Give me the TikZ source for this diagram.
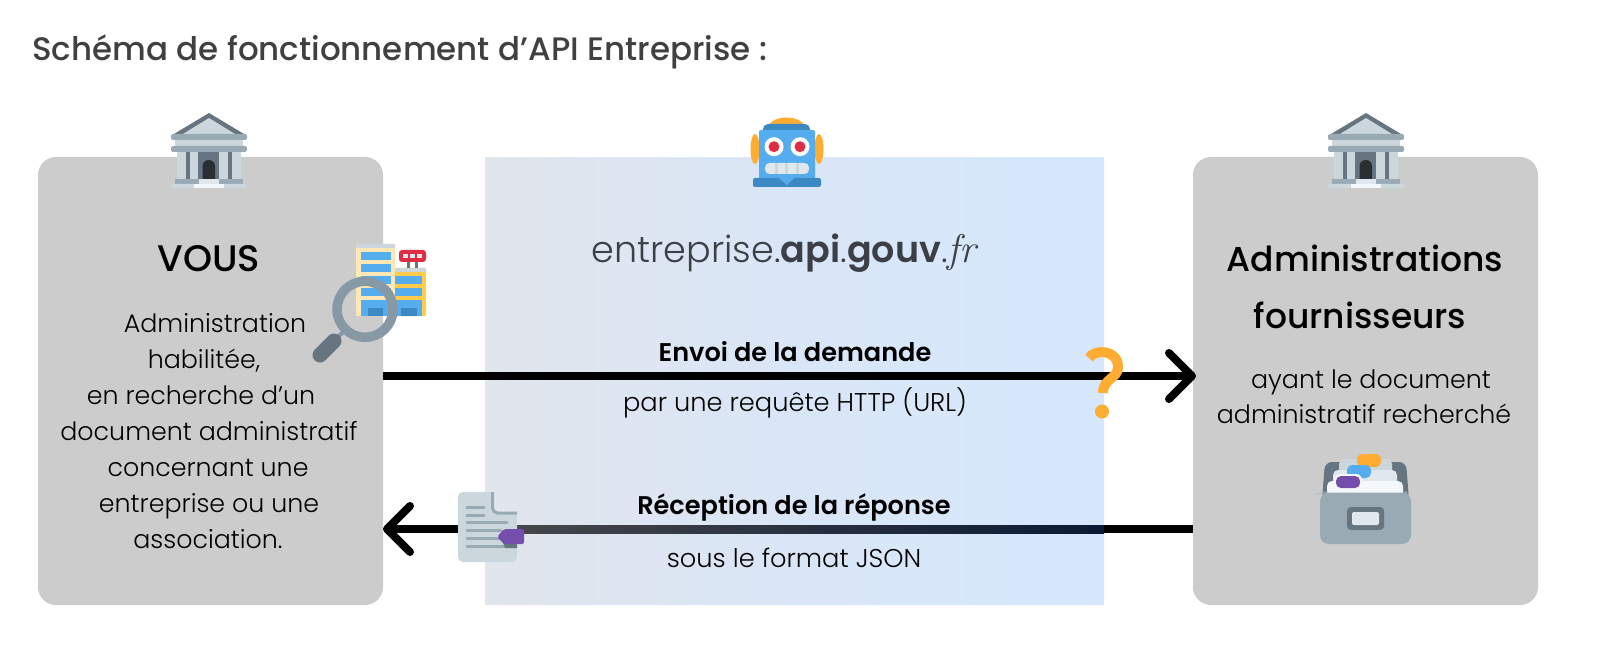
\documentclass[tikz,border=0pt]{standalone}
\usepackage{fontspec}
\usetikzlibrary{arrows.meta}
\newfontfamily\bodyfont{Poppins Light}
\newfontfamily\boldfont{Poppins Medium}
\newfontfamily\semifont{Poppins SemiBold}
\definecolor{boxgrey}{HTML}{CCCCCC}
\definecolor{panelL}{HTML}{E1E5EC}
\definecolor{panelR}{HTML}{D6E7FC}
\definecolor{ink}{HTML}{3C3F46}
\definecolor{titleink}{HTML}{404040}
\definecolor{fadeL}{HTML}{45474C}
\definecolor{fadeR}{HTML}{0B1A33}
\definecolor{tw1}{HTML}{66757F}
\definecolor{tw2}{HTML}{99AAB5}
\definecolor{tw3}{HTML}{CCD6DD}
\definecolor{tw4}{HTML}{E1E8ED}
\definecolor{tw5}{HTML}{F5F8FA}
\definecolor{tw6}{HTML}{292F33}
\definecolor{tw7}{HTML}{8899A6}
\definecolor{twblue}{HTML}{55ACEE}
\definecolor{twdblue}{HTML}{3B88C3}
\definecolor{twred}{HTML}{DD2E44}
\definecolor{twor}{HTML}{FFAC33}
\definecolor{twyel}{HTML}{FFCC4D}
\definecolor{twcream}{HTML}{FFE8B6}
\definecolor{twpur}{HTML}{744EAA}
\tikzset{
  x=1pt,y=-1pt,
  sidebox/.style={fill=boxgrey,draw=none,rounded corners=18pt,minimum width=345pt,minimum height=448pt,inner sep=0pt,outer sep=0pt},
  bodytext/.style={anchor=base,inner sep=0pt,font=\bodyfont\fontsize{25.3}{26}\selectfont,text=black},
  midtext/.style={anchor=base,inner sep=0pt,font=\bodyfont\fontsize{25.7}{26}\selectfont,text=black},
  midbold/.style={anchor=base,inner sep=0pt,font=\semifont\fontsize{25.6}{26}\selectfont,text=black},
  headtext/.style={anchor=base,inner sep=0pt,font=\boldfont\fontsize{34.5}{36}\selectfont,text=black},
  flow/.style={draw=black,line width=8pt,-{Straight Barb[length=23pt,width=46pt,round]}},
  bankicon/.pic={
    \fill[tw1] (0,0) -- (-35,21) -- (35,21) -- cycle;
    \fill[tw3] (0,5) -- (-26,21) -- (26,21) -- cycle;
    \fill[tw3] (-32,39) rectangle (32,67);
    \fill[tw1] (-23,39) rectangle (-19,67);
    \fill[tw1] (19,39) rectangle (23,67);
    \fill[tw1] (-11,39) rectangle (10,67);
    \fill[tw6,rounded corners=6pt] (-6.5,67) -- (-6.5,47) -- (6,47) [sharp corners] -- (6,67) -- cycle;
    \fill[tw3] (-34,27) rectangle (34,34);
    \fill[tw2,rounded corners=2pt] (-38,21) rectangle (38,27);
    \fill[tw2,rounded corners=2pt] (-38,33) rectangle (38,39);
    \fill[tw2] (-34,66) rectangle (34,71);
    \fill[tw3] (-37,71) -- (37,71) -- (38,75) -- (-38,75) -- cycle;
    \fill[tw4] (-10,66) rectangle (10,71);
    \fill[tw5] (-15,71) rectangle (15,75);
  }
}
\begin{document}
\begin{tikzpicture}
\useasboundingbox (0,0) rectangle (1600,660);
% panels
\node[sidebox] (leftbox) at (210.5,381) {};
\node[sidebox] (rightbox) at (1365.5,381) {};
\node[inner sep=0pt,outer sep=0pt,minimum width=619pt,minimum height=447pt,left color=panelL,right color=panelR,middle color=panelL!30!panelR] (panel) at (794.5,381) {};
% title
\node[anchor=base west,inner sep=0pt,text=titleink,font=\boldfont\fontsize{32.5}{34}\selectfont] (title) at (32,61) {Schéma de fonctionnement d’API Entreprise :};
% connectors
\coordinate (reqy) at (0,376);
\coordinate (repy) at (0,529);
\draw[flow,shorten >=-3pt] (leftbox.east |- reqy) -- (rightbox.west |- reqy);
\draw[flow] (rightbox.west |- repy) -- (leftbox.east |- repy);
\node[inner sep=0pt,outer sep=0pt,minimum width=587pt,minimum height=8pt,left color=fadeL,right color=fadeR] (fade) at (810.5,529) {};
% left text
\node[headtext,font=\boldfont\fontsize{37}{38}\selectfont] (vous) at (209,272) {VOUS};
\node[bodytext] (l1) at (215,332) {Administration};
\node[bodytext] (l2) at (204,368) {habilitée,};
\node[bodytext] (l3) at (201,404) {en recherche d’un};
\node[bodytext] (l4) at (209,440) {document administratif};
\node[bodytext] (l5) at (208,476) {concernant une};
\node[bodytext] (l6) at (209,512) {entreprise ou une};
\node[bodytext] (l7) at (208,548) {association.};
% right text
\node[headtext] (r1) at (1365,272) {Administrations};
\node[headtext] (r2) at (1360,328) {fournisseurs};
\node[bodytext] (r3) at (1371,388) {ayant le document};
\node[bodytext] (r4) at (1364,423) {administratif recherché};
% middle
\node[anchor=base,inner sep=0pt,text=ink,font=\fontsize{36.5}{37}\selectfont] (brand) at (784,262) {{\bodyfont entreprise.}{\semifont api}{\bodyfont .}{\semifont gouv}{\bodyfont .}{\rmfamily\itshape\fontsize{40}{40}\selectfont fr}};
\node[midbold] (m1) at (795,361) {Envoi de la demande};
\node[midtext] (m2) at (795,411) {par une requête HTTP (URL)};
\node[midbold] (m3) at (794,514) {Réception de la réponse};
\node[midtext] (m4) at (794,567) {sous le format JSON};
% banks
\pic (bankL) at (209,113) {bankicon};
\pic (bankR) at (1366,113) {bankicon};
% robot
\fill[twor] (768,128) .. controls (770,114) and (803,114) .. (805,128) -- cycle;
\fill[twor] (755,149) ellipse (4.5 and 15);
\fill[twor] (819,149) ellipse (4.5 and 15);
\fill[twdblue,rounded corners=5pt] (763,124) rectangle (810,140);
\fill[twblue,rounded corners=2pt] (759,130) rectangle (815,180);
\fill[white] (774,146.7) circle (9.5);
\fill[white] (800,146.7) circle (9.5);
\fill[twred] (774,146.7) circle (5.5);
\fill[twred] (800,146.7) circle (5.5);
\fill[tw4,rounded corners=4.5pt] (765,163) rectangle (809,174);
\fill[tw3] (775,163) rectangle (778,174);
\fill[tw3] (785,163) rectangle (788,174);
\fill[tw3] (796,163) rectangle (799,174);
\fill[twdblue,rounded corners=2pt] (753,178) rectangle (821,187);
\fill[twblue] (778,177.5) -- (795,177.5) -- (787,185) -- cycle;
% buildings
\fill[twcream,rounded corners=1pt] (356,244) rectangle (395,316);
\fill[tw3,rounded corners=1pt] (356,244) rectangle (395,248);
\fill[twblue] (361,252) rectangle (391,260);
\fill[twblue] (361,264) rectangle (391,272);
\fill[twblue] (361,276) rectangle (391,284);
\fill[twblue] (361,288) rectangle (391,296);
\fill[twblue] (361,300) rectangle (391,316);
\fill[twdblue] (368,308) rectangle (383,316);
\fill[twyel,rounded corners=1pt] (395,268) rectangle (426,316);
\fill[tw3,rounded corners=1pt] (395,268) rectangle (426,272);
\fill[twblue] (395,276) rectangle (422,284);
\fill[twblue] (395,288) rectangle (422,296);
\fill[twblue] (395,300) rectangle (422,316);
\fill[twdblue] (401,308) rectangle (417,316);
\fill[tw1] (407,262) rectangle (410,268);
\fill[tw1] (415,262) rectangle (418,268);
\fill[twred,rounded corners=3pt] (399,250) rectangle (426,262);
\fill[tw4] (403,254.5) rectangle (408,258);
\fill[tw4] (410,254.5) rectangle (415,258);
\fill[tw4] (417,254.5) rectangle (422,258);
% magnifier
\draw[tw7,line width=4pt] (335,340) -- (345,330);
\draw[tw7,line width=9.5pt] (365,309.3) circle (28);
\draw[tw1,line width=15pt,line cap=round] (320,355) -- (334,341);
% question mark
\draw[twor,line width=10pt] (1089,358) .. controls (1094,349) and (1118,349) .. (1118,367) .. controls (1118,379) and (1103,378) .. (1103,393);
\fill[twor] (1102,411.5) circle (7);
% document
\fill[tw3,rounded corners=5pt] (458,492) rectangle (517,562);
\fill[panelL] (494,490) rectangle (519,511.5);
\draw[tw2,line width=3pt,rounded corners=5pt] (492.5,492) -- (492.5,513) -- (517,513);
\draw[tw2,line width=3pt,line cap=round]
  (467,507) -- (484,507) (467,515) -- (484,515) (467,522) -- (507,522)
  (467,530) -- (501,530) (467,538) -- (501,538) (467,546) -- (507,546);
\fill[tw1] (502,540) -- (517,540) -- (517,548) -- (505,548) -- cycle;
\fill[twpur,rounded corners=2pt] (497,537) -- (504,529) -- (524,529) -- (524,544) -- (504,544) -- cycle;
% drawer
\fill[tw1,rounded corners=7pt] (1322,500) -- (1325,462) -- (1406,462) -- (1409,500) -- cycle;
\fill[tw3,rounded corners=5pt] (1339,459) rectangle (1392,490);
\fill[twor,rounded corners=5pt] (1357,454) rectangle (1381,467);
\fill[tw4,rounded corners=5pt] (1333,470) rectangle (1397,495);
\fill[twblue,rounded corners=5pt] (1347,465) rectangle (1371,478);
\fill[tw5,rounded corners=5pt] (1327,481) rectangle (1403,500);
\fill[tw5,rounded corners=6pt] (1334,474) rectangle (1362,490);
\fill[twpur,rounded corners=5pt] (1336,476) rectangle (1360,488);
\fill[tw2,rounded corners=9pt] (1320,544) -- (1320,493) -- (1322,492.5) [sharp corners] -- (1409,492.5) [rounded corners=9pt] -- (1411,493) -- (1411,544) -- cycle;
\fill[tw1,rounded corners=4pt] (1347,507) rectangle (1384,530);
\fill[tw4,rounded corners=2pt] (1352,512) rectangle (1379,525);
\end{tikzpicture}
\end{document}
